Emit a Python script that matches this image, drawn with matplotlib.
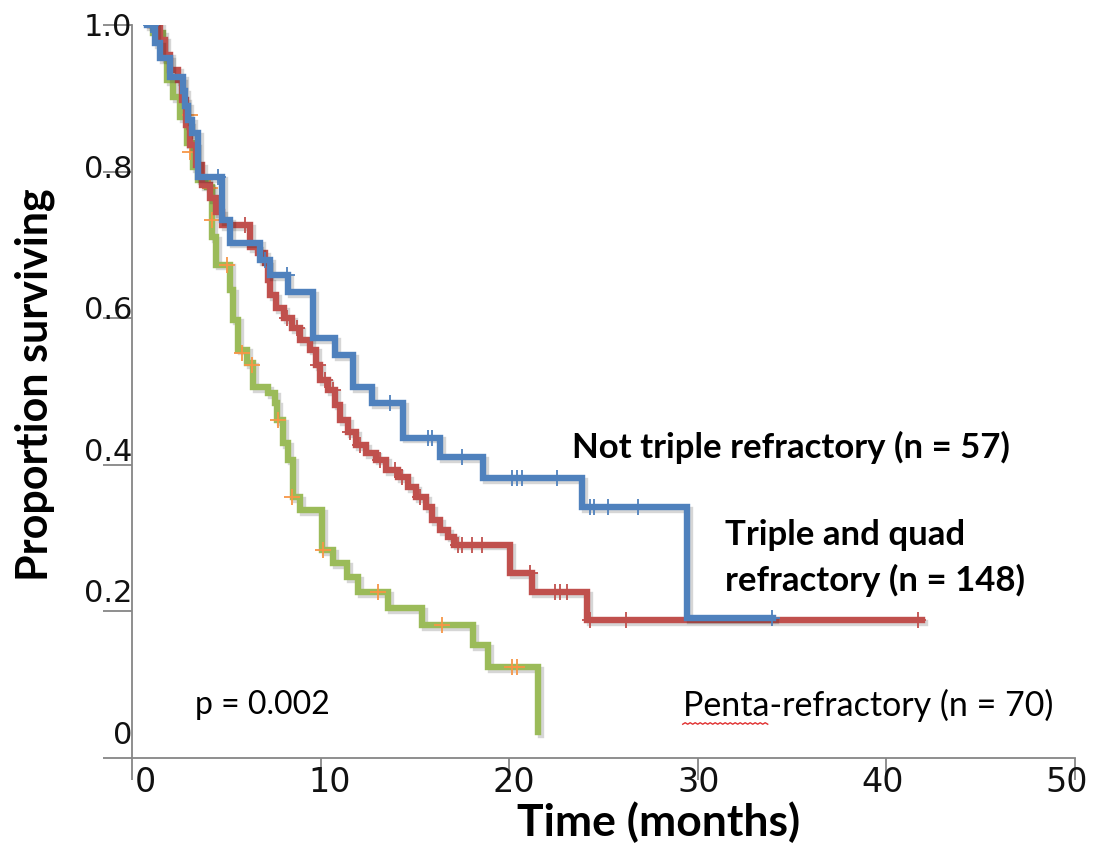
import matplotlib
matplotlib.use("Agg")
import matplotlib.pyplot as plt
import matplotlib.patheffects as pe
import numpy as np
from matplotlib.lines import Line2D
from matplotlib.transforms import ScaledTranslation, IdentityTransform

# Not triple refractory (n = 57)
blue_t = [0.80, 1.22, 1.48, 2.01, 2.70, 2.81, 2.97, 3.18, 3.50, 4.77, 5.20, 6.79,
          7.32, 8.27, 9.60, 10.76, 11.72, 12.73, 14.37, 16.33, 18.61, 23.86, 29.43, 33.99]
blue_s = [1.0, 0.975, 0.955, 0.929, 0.91, 0.89, 0.87, 0.853, 0.793, 0.734, 0.703, 0.679,
          0.659, 0.636, 0.573, 0.550, 0.506, 0.484, 0.437, 0.411, 0.382, 0.342, 0.191, 0.191]
blue_cens_t = [1.0, 4.56, 7.05, 8.22, 13.68, 15.69, 15.91, 17.50, 20.15, 20.41, 20.68,
               22.53, 24.28, 24.50, 25.24, 26.83, 33.93]
blue_cens_s = [1.0, 0.793, 0.679, 0.659, 0.484, 0.437, 0.437, 0.411, 0.382, 0.382, 0.382,
               0.382, 0.342, 0.342, 0.342, 0.342, 0.191]

# Triple and quad refractory (n = 148)
red_t = [0.95, 1.48, 1.75, 2.01, 2.44, 2.65, 2.86, 3.08, 3.39, 3.71, 4.14, 4.45, 4.77,
         6.26, 6.68, 7.05, 7.21, 7.32, 7.64, 8.06, 8.48, 8.91, 9.44, 9.76, 9.97, 10.39,
         10.76, 11.03, 11.45, 11.88, 12.41, 12.94, 13.47, 14.10, 14.63, 15.06, 15.59,
         15.91, 16.33, 16.76, 17.07, 20.04, 21.21, 24.12, 41.89]
red_s = [1.0, 0.980, 0.959, 0.939, 0.925, 0.898, 0.864, 0.836, 0.809, 0.782, 0.764, 0.745,
         0.727, 0.697, 0.689, 0.675, 0.652, 0.632, 0.614, 0.600, 0.587, 0.570, 0.557,
         0.536, 0.516, 0.502, 0.482, 0.461, 0.445, 0.427, 0.416, 0.407, 0.393, 0.383,
         0.370, 0.356, 0.342, 0.325, 0.311, 0.302, 0.291, 0.252, 0.226, 0.188, 0.188]
red_cens_t = [5.30, 5.99, 8.22, 8.75, 9.86, 10.23, 10.66, 11.56, 12.09, 13.15, 13.94, 14.32,
              15.27, 17.29, 17.50, 18.03, 18.56, 21.10, 22.43, 22.69, 23.06, 24.28, 26.19, 41.68]
red_cens_s = [0.727, 0.727, 0.600, 0.587, 0.536, 0.516, 0.502, 0.445, 0.427, 0.407, 0.393,
              0.383, 0.356, 0.291, 0.291, 0.291, 0.291, 0.252, 0.226, 0.226, 0.226, 0.188,
              0.188, 0.188]

# Penta-refractory (n = 70)
green_t = [1.06, 1.11, 1.64, 1.86, 2.17, 2.55, 2.92, 3.23, 3.50, 3.98, 4.24, 4.45, 5.20,
           5.36, 5.62, 6.10, 6.42, 7.21, 7.58, 7.69, 8.01, 8.27, 8.54, 8.91, 10.07, 10.66,
           11.40, 11.98, 13.57, 15.38, 18.08, 18.88, 21.53]
green_s = [1.0, 0.989, 0.956, 0.925, 0.902, 0.874, 0.839, 0.806, 0.789, 0.779, 0.711,
           0.673, 0.638, 0.598, 0.557, 0.539, 0.506, 0.498, 0.484, 0.461, 0.430, 0.407,
           0.356, 0.338, 0.284, 0.266, 0.247, 0.226, 0.205, 0.181, 0.154, 0.124, 0.035]
green_cens_t = [3.08, 3.08, 4.14, 4.24, 5.04, 5.83, 6.36, 7.74, 8.48, 10.13, 13.04, 16.44,
                20.15, 20.41]
green_cens_s = [0.877, 0.827, 0.778, 0.734, 0.673, 0.553, 0.536, 0.461, 0.356, 0.284,
                0.226, 0.181, 0.124, 0.124]

x_ticks = [0, 10, 20, 30, 40, 50]
y_ticks = [0, 0.2, 0.4, 0.6, 0.8, 1.0]
y_tick_labels = ["0", "0.2", "0.4", "0.6", "0.8", "1.0"]

BLUE = "#4F81BD"
RED = "#C0504D"
GREEN = "#9BBB59"
ORANGE = "#F79646"
AXIS_GRAY = "#868686"

plt.rcParams["font.family"] = ["Liberation Sans Narrow", "DejaVu Sans"]

fig = plt.figure(figsize=(11.06, 8.55), dpi=100)
ax = fig.add_axes([132 / 1106, 1 - 758 / 855, 943 / 1106, 733 / 855])

shadow = [pe.SimpleLineShadow(offset=(2, -2), shadow_color="k", alpha=0.16), pe.Normal()]


def draw_curve(t, s, ct, cs, color, mcolor, z):
    ax.step(t, s, where="post", color=color, lw=4.6, zorder=z,
            solid_joinstyle="miter", path_effects=shadow)
    ax.plot(ct, cs, ls="none", marker="+", ms=11, mew=1.3, color=mcolor, zorder=z + 0.5)


draw_curve(green_t, green_s, green_cens_t, green_cens_s, GREEN, ORANGE, 2)
draw_curve(red_t, red_s, red_cens_t, red_cens_s, RED, RED, 3)
draw_curve(blue_t, blue_s, blue_cens_t, blue_cens_s, BLUE, BLUE, 4)

ax.set_xlim(0, 50)
ax.set_ylim(0, 1)
for side in ["top", "right"]:
    ax.spines[side].set_visible(False)
for side in ["left", "bottom"]:
    ax.spines[side].set_color(AXIS_GRAY)
    ax.spines[side].set_linewidth(1.3)

ax.set_xticks(x_ticks)
ax.set_xticklabels([str(v) for v in x_ticks])
ax.set_yticks(y_ticks)
ax.set_yticklabels(y_tick_labels)
ax.tick_params(axis="x", direction="out", length=16, width=1.3, color=AXIS_GRAY,
               pad=-10, labelsize=24, labelcolor="#111111")
ax.tick_params(axis="y", direction="out", length=21, width=1.3, color=AXIS_GRAY,
               pad=-21, labelsize=22, labelcolor="#111111")

# labels drift slightly against their ticks in the original
for v, lab in zip(x_ticks, ax.get_xticklabels()):
    dx = (13 - 21 * v / 50) / 100
    lab.set_transform(lab.get_transform() + ScaledTranslation(dx, 0, fig.dpi_scale_trans))
for v, lab in zip(y_ticks, ax.get_yticklabels()):
    dy = -(3 - 26 * (1 - v)) / 100
    lab.set_verticalalignment("center")
    lab.set_transform(lab.get_transform() + ScaledTranslation(0, dy, fig.dpi_scale_trans))

ax.set_ylabel("Proportion surviving", family="Lato", fontweight="bold", fontsize=31,
              va="center")
ax.yaxis.set_label_coords(-0.103, 0.509)
ax.set_xlabel("Time (months)", family="Lato", fontweight="bold", fontsize=32, va="center")
ax.xaxis.set_label_coords(0.558, -0.087)

ax.text(23.33, 0.424, "Not triple refractory (n = 57)", family="Lato", fontweight="bold",
        fontsize=25, va="center", ha="left")
ax.text(31.44, 0.273, "Triple and quad\nrefractory (n = 148)", family="Lato",
        fontweight="bold", fontsize=25, va="center", ha="left", linespacing=1.45)
penta = ax.text(29.2, 0.072, "Penta-refractory (n = 70)", family="Lato", fontsize=24.5,
                va="center", ha="left")
ax.text(3.34, 0.072, "p = 0.002", family="Lato", fontsize=23, va="center", ha="left")

# spell-check squiggle under "Penta"
word = ax.text(29.2, 0.072, "Penta", family="Lato", fontsize=24.5, va="center", ha="left",
               alpha=0)
fig.canvas.draw()
bb = word.get_window_extent()
xs = np.arange(bb.x0, bb.x1, 2.5)
ys = bb.y0 - 3 + 1.5 * (np.arange(len(xs)) % 2)
fig.add_artist(Line2D(xs, ys, transform=IdentityTransform(), color="#E03030", lw=1))

fig.savefig("out.png", dpi=100, facecolor="white")
